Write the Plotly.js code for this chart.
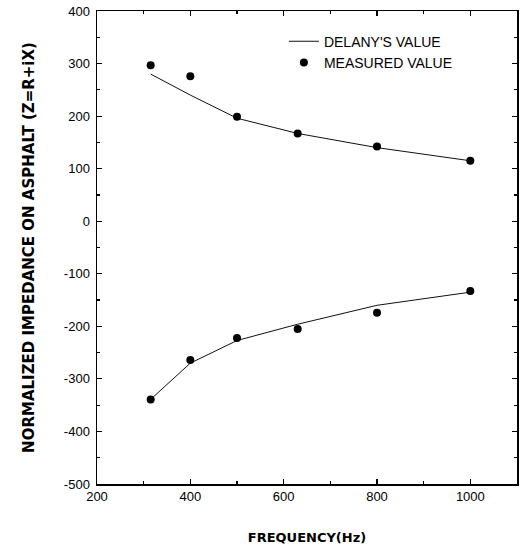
<!DOCTYPE html>
<html>
<head>
<meta charset="utf-8">
<script src="https://cdn.plot.ly/plotly-3.0.1.min.js"></script>
<style>html,body{margin:0;padding:0;background:#fff;}#chart{width:532px;height:546px;}</style>
</head>
<body>
<div id="chart"></div>
<script>
const frequency = [315, 400, 500, 630, 800, 1000];
const delanyReal = [280, 240, 196, 167, 140, 115];
const delanyImag = [-339, -270, -227, -196, -160, -135];
const measuredReal = [297, 276, 199, 167, 142, 115];
const measuredImag = [-339, -264, -222, -205, -174, -133];
const xTicks = [200, 400, 600, 800, 1000];
const yTicks = [400, 300, 200, 100, 0, -100, -200, -300, -400, -500];
const yTickLabels = ['400', '300', '200', '100', '0', '-100', '-200', '-300', '-400', '-500'];

const font = {family: 'Liberation Sans, Arial, sans-serif', size: 13, color: '#000'};
const titleFont = {family: 'DejaVu Sans, sans-serif', size: 13, color: '#000', weight: 'bold'};
const lineStyle = {color: '#111', width: 1};
const markerStyle = {color: '#000', size: 8, symbol: 'circle'};

const traces = [
  {x: frequency, y: delanyReal, mode: 'lines', line: lineStyle, name: "DELANY'S VALUE", legendrank: 1},
  {x: frequency, y: delanyImag, mode: 'lines', line: lineStyle, showlegend: false},
  {x: frequency, y: measuredReal, mode: 'markers', marker: markerStyle, name: 'MEASURED VALUE', legendrank: 2},
  {x: frequency, y: measuredImag, mode: 'markers', marker: markerStyle, showlegend: false}
];

const axisCommon = {
  showline: true, linecolor: '#000', linewidth: 1.5, mirror: 'allticks',
  ticks: 'inside', ticklen: 5, tickwidth: 1.2, tickcolor: '#000',
  showgrid: false, zeroline: false, tickfont: font
};

const layout = {
  width: 532, height: 546,
  margin: {l: 97, r: 15, t: 11, b: 62},
  paper_bgcolor: '#fff', plot_bgcolor: '#fff',
  font: font,
  showlegend: true,
  legend: {x: 0.445, y: 0.969, xanchor: 'left', yanchor: 'top', bgcolor: 'rgba(0,0,0,0)', font: {family: font.family, size: 14, color: '#000'}, tracegroupgap: 0, itemwidth: 30},
  xaxis: Object.assign({}, axisCommon, {
    range: [200, 1100], tickvals: xTicks, ticktext: xTicks.map(String),
    minor: {dtick: 100, tick0: 200, ticks: 'inside', ticklen: 3, tickcolor: '#000', showgrid: false},
    title: {text: 'FREQUENCY(Hz)', font: titleFont, standoff: 30}
  }),
  yaxis: Object.assign({}, axisCommon, {
    range: [-500, 400], tickvals: yTicks, ticktext: yTickLabels, ticklabelstandoff: 3,
    minor: {dtick: 50, tick0: 0, ticks: 'inside', ticklen: 3, tickcolor: '#000', showgrid: false},
    title: {text: 'NORMALIZED IMPEDANCE ON ASPHALT (Z=R+iX)', font: Object.assign({}, titleFont, {size: 15}), standoff: 25}
  })
};

Plotly.newPlot('chart', traces, layout, {displayModeBar: false, staticPlot: true});
</script>
</body>
</html>
